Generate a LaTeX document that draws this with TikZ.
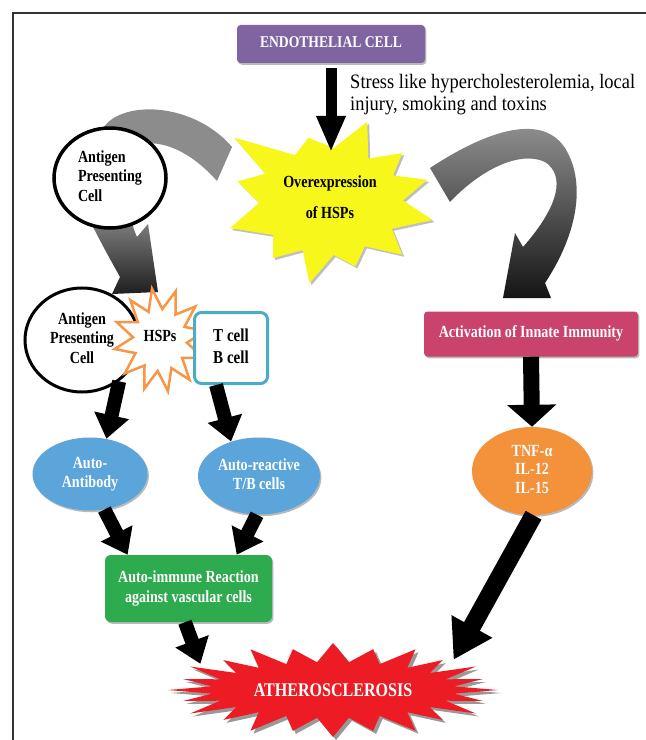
\documentclass[tikz,border=0pt]{standalone}
\usepackage{fontspec}
\setmainfont{Liberation Serif}
\usepackage{graphicx}
\usetikzlibrary{arrows.meta,shapes.geometric,shadows}
\definecolor{cPurple}{HTML}{8064A2}
\definecolor{cPink}{HTML}{C9436D}
\definecolor{cOrange}{HTML}{F4913B}
\definecolor{cBlue}{HTML}{5CA5DB}
\definecolor{cGreen}{HTML}{2EAA4F}
\definecolor{cRed}{HTML}{ED1C24}
\definecolor{cTeal}{HTML}{4BACC6}
\definecolor{cYellow}{HTML}{F7F71C}
\definecolor{cStar}{HTML}{F79646}
\definecolor{cFrame}{HTML}{333333}
\def\pxu{0.03cm}
\newcommand{\sqz}[2][c]{\scalebox{0.83}[1]{\begin{tabular}{@{}#1@{}}#2\end{tabular}}}
\begin{document}
\begin{tikzpicture}[x=0.03cm,y=-0.03cm,
  txt/.style={font=\bfseries\fontsize{14.5}{17}\selectfont, inner sep=0pt},
  shad/.style={drop shadow={shadow xshift=1.2pt,shadow yshift=-1.5pt,fill=black!45,opacity=0.6}},
  box/.style={rectangle, rounded corners=3pt, inner sep=0pt, text=white, shad, txt},
  blob/.style={ellipse, inner sep=0pt, text=white, shad, txt},
  arrE/.style={draw=black, line width=0.33cm, -{Triangle[width=0.81cm,length=1.08cm]}},
  arrS/.style={draw=black, line width=0.42cm, -{Triangle[width=1.02cm,length=0.72cm]}},
  arrA/.style={draw=black, line width=0.48cm, -{Triangle[width=1.44cm,length=0.66cm]}},
  arrT/.style={draw=black, line width=0.54cm, -{Triangle[width=1.32cm,length=1.14cm]}}]
\useasboundingbox (0,0) rectangle (645,740);
\fill[white] (0,0) rectangle (645,740);
\draw[cFrame, line width=1.5*\pxu] (13,745) -- (13,13) -- (650,13);

% grey curved arrows
\fill[black!45] (100,135) .. controls (110,100) and (190,98) .. (232,147) -- (217,181) .. controls (185,145) and (150,135) .. (125,150) -- cycle;
\shade[top color=black!45, bottom color=black!88] (85,210) -- (92,225) .. controls (105,250) .. (120,277) -- (112,294) -- (158,292) -- (148,224) -- (137,237) .. controls (134,230) .. (130,215) -- cycle;
\shade[top color=black!40, middle color=black!50, bottom color=black!92] (430,168) .. controls (480,135) and (540,110) .. (565,148) .. controls (585,180) and (580,230) .. (545,283) -- (551,298) -- (503,298) -- (515,233) -- (523,247) .. controls (560,205) and (565,175) .. (545,162) .. controls (520,150) and (480,170) .. (450,202) -- cycle;

% yellow star
\begin{scope}[shift={(331,203)}, yscale=-1]
  \foreach \dx/\dy/\col in {2/-2/black!25, 0/0/cYellow}{
  \fill[\col, shift={(\dx,\dy)}] (146:117) -- (127:60) -- (109:69) -- (87:55) -- (66:89) -- (50:58) -- (35:87) -- (24:68) -- (13.5:99) -- (2:72) -- (-9.5:103) -- (-23:66) -- (-36:88) -- (-52:55) -- (-69:68) -- (-87:52) -- (-105:83) -- (-121:55) -- (-136.5:80) -- (-151:66) -- (-166:104) -- (180:72) -- (167:96) -- (156:72) -- cycle;}
\end{scope}

% red star
\begin{scope}[shift={(333,690)}, yscale=-1]
  \foreach \dx/\dy/\col in {3/-3/black!40, 0/0/cRed}{
  \fill[\col, shift={(\dx,\dy)}] (0:165 and 47) \foreach \i in {1,...,24} { -- ({\i*15-7.5}:122 and 28) -- ({\i*15}:{165*(1-0.06*mod(\i,2))} and {47*(1-0.1*mod(\i,2))}) } -- cycle;}
\end{scope}

\node[box, fill=cPurple, minimum width=188*\pxu, minimum height=38*\pxu, font=\bfseries\fontsize{14}{16}\selectfont] (endo) at (331,44) {\sqz{ENDOTHELIAL CELL}};
\node[anchor=west, inner sep=0pt, font=\fontsize{17.5}{18.7}\selectfont] (stress) at (350,95) {\scalebox{0.9}[1]{\begin{tabular}{@{}l@{}}Stress like hypercholesterolemia, local\\injury, smoking and toxins\end{tabular}}};
\node[txt, font=\bfseries\fontsize{14.5}{26}\selectfont] (ovr) at (330,197) {\sqz{Overexpression\\of HSPs}};
\coordinate (ovrtop) at (331,152);

\node[draw, ellipse, line width=3.5*\pxu, fill=white, minimum width=112*\pxu, minimum height=100*\pxu, txt] (apc1) at (110,178) {\sqz[l]{Antigen\\Presenting\\Cell}};
\node[draw, ellipse, line width=3*\pxu, fill=white, minimum width=114*\pxu, minimum height=104*\pxu, txt] (apc2) at (82,340) {\sqz{Antigen\\Presenting\\Cell}};

\begin{scope}[shift={(160,340)}, yscale=-1]
  \draw[cStar, fill=white, line width=2.5*\pxu] (10:46 and 52) \foreach \i in {1,...,12} { -- ({10+\i*30-15}:27 and 31) -- ({10+\i*30}:46 and 52) } -- cycle;
\end{scope}
\node[txt] (hsps) at (160,338) {\sqz{HSPs}};
\node[draw=cTeal, line width=3*\pxu, fill=white, rounded corners=6pt, minimum width=73*\pxu, minimum height=71*\pxu, txt, font=\bfseries\fontsize{15.5}{19}\selectfont] (tb) at (231,348) {\sqz{T cell\\B cell}};

\node[box, fill=cPink, minimum width=214*\pxu, minimum height=45*\pxu] (act) at (531,334) {\sqz{Activation of Innate Immunity}};
\node[blob, fill=cOrange, minimum width=120*\pxu, minimum height=88*\pxu, font=\bfseries\fontsize{14.5}{16}\selectfont] (tnf) at (532,471) {\sqz{TNF-α\\IL-12\\IL-15}};
\node[blob, fill=cBlue, minimum width=115*\pxu, minimum height=73*\pxu] (aab) at (90,474) {\sqz{Auto-\\Antibody}};
\node[blob, fill=cBlue, minimum width=122*\pxu, minimum height=77*\pxu] (ar) at (259,476) {\sqz{Auto-reactive\\T/B cells}};
\node[box, fill=cGreen, rounded corners=5pt, minimum width=167*\pxu, minimum height=67*\pxu] (gr) at (188.5,588.5) {\sqz{Auto-immune Reaction\\against vascular cells}};
\node[ellipse, minimum width=330*\pxu, minimum height=94*\pxu, inner sep=0pt, text=white, font=\bfseries\fontsize{16.5}{19}\selectfont] (ath) at (333,692) {\sqz{ATHEROSCLEROSIS}};

% black arrows
\draw[arrE, shorten <=0.15cm] (endo.south) -- (ovrtop);
\draw[arrS] (apc2.312) -- (aab.65);
\draw[arrS] (tb.248) -- (ar.129);
\draw[arrS] (aab.292) -- (gr.151);
\draw[arrS] (ar.267) -- (gr.35);
\draw[arrS] (gr.264) -- (ath.168);
\draw[arrA] (act.south) -- (tnf.north);
\draw[arrT] (tnf.272) -- (ath.15);
\end{tikzpicture}
\end{document}
